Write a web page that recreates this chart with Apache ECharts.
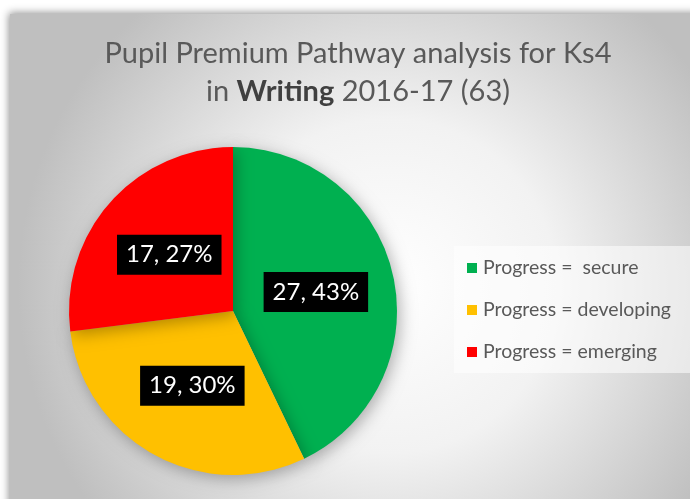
<!DOCTYPE html>
<html>
<head>
<meta charset="utf-8">
<script src="https://cdn.jsdelivr.net/npm/echarts@6/dist/echarts.min.js"></script>
<style>
html,body{margin:0;padding:0;background:#ffffff;}
#c{width:690px;height:499px;}
</style>
</head>
<body>
<div id="c"></div>
<script>
const categories = ['Progress =  secure', 'Progress = developing', 'Progress = emerging'];
const values = [27, 19, 17];
const colors = ['#00B050', '#FFC000', '#FF0000'];
const titleLine1 = 'Pupil Premium Pathway analysis for Ks4';
const titleLine2a = 'in ';
const titleLine2b = 'Writing';
const titleLine2c = ' 2016-17 (63)';

const chart = echarts.init(document.getElementById('c'), null, {renderer: 'canvas'});
const FONT = 'Lato, "Open Sans", sans-serif';
chart.setOption({
  animation: false,
  graphic: [{
    type: 'rect',
    z: -10,
    shape: {x: 10, y: 14, width: 690, height: 495},
    style: {
      fill: {
        type: 'radial', x: 0.55, y: 0.55, r: 0.75,
        colorStops: [{offset: 0, color: '#ffffff'}, {offset: 0.45, color: '#f2f2f2'}, {offset: 1, color: '#bfbfbf'}]
      },
      shadowBlur: 8, shadowColor: 'rgba(0,0,0,0.45)', shadowOffsetX: -1, shadowOffsetY: -1
    }
  }],
  title: {
    left: 353, top: 30, textAlign: 'center',
    text: '{n|' + titleLine1 + '}\n{n|' + titleLine2a + '}{b|' + titleLine2b + '}{n|' + titleLine2c + '}',
    textStyle: {
      fontWeight: 'normal',
      rich: {
        n: {fontFamily: FONT, fontSize: 29, color: '#595959', fontWeight: 'normal', lineHeight: 38},
        b: {fontFamily: FONT, fontSize: 29, color: '#404040', fontWeight: 'bold', lineHeight: 38}
      }
    }
  },
  legend: {
    orient: 'vertical', left: 454, top: 246,
    padding: [12, 20, 11, 13],
    backgroundColor: 'rgba(255,255,255,0.55)',
    itemWidth: 10, itemHeight: 10, itemGap: 22,
    icon: 'rect',
    data: categories,
    textStyle: {fontFamily: FONT, fontSize: 19.5, color: '#595959', padding: [0,0,0,1]}
  },
  series: [{
    type: 'pie',
    center: [233, 311],
    radius: 164,
    startAngle: 90,
    clockwise: true,
    percentPrecision: 0,
    data: categories.map((n, i) => ({name: n, value: values[i], itemStyle: {color: colors[i]}})),
    itemStyle: {shadowBlur: 16, shadowColor: 'rgba(0,0,0,0.3)', shadowOffsetX: 3, shadowOffsetY: 4},
    label: {
      position: 'inside',
      formatter: '{c}, {d}%',
      color: '#ffffff',
      backgroundColor: '#000000',
      padding: [8, 9],
      fontFamily: FONT,
      fontSize: 24,
      lineHeight: 24
    },
    labelLine: {show: false},
    emphasis: {disabled: true}
  }]
});
</script>
</body>
</html>
